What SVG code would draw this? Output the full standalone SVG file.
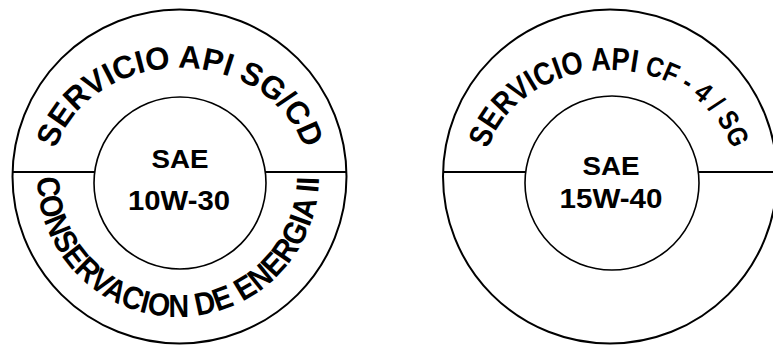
<svg xmlns="http://www.w3.org/2000/svg" width="773" height="345" viewBox="0 0 773 345">
<style>
.ring{fill:none;stroke:#000;stroke-width:2}
.inner{fill:#fff;stroke:#000;stroke-width:1.6}
.sep{stroke:#000;stroke-width:1.8}
.arc{font-family:"Liberation Sans",Arial,sans-serif;font-weight:bold;font-size:32px;fill:#000}
.ctr{font-family:"Liberation Sans",Arial,sans-serif;font-weight:bold;fill:#000;text-anchor:middle}
</style>
<defs>
<path id="pTopL" d="M 52,176 A 128,108 0 0 1 308,176"/>
<path id="pBotL" d="M 37,176 A 141,141 0 0 0 319,176"/>
<path id="pTopR" d="M 484,176 A 126,106 0 0 1 736,176"/>
</defs>
<g id="node-left">
<circle class="ring" cx="179.5" cy="176.5" r="167"/>
<line class="sep" x1="12.5" y1="172" x2="346.5" y2="172"/>
<circle class="inner" cx="180" cy="183" r="86"/>
<text class="arc"><textPath href="#pTopL" startOffset="50%" text-anchor="middle" textLength="316" lengthAdjust="spacingAndGlyphs">SERVICIO API SG/CD</textPath></text>
<text class="arc" font-size="31"><textPath href="#pBotL" startOffset="50%" text-anchor="middle" textLength="440" lengthAdjust="spacingAndGlyphs">CONSERVACION DE ENERGIA II</textPath></text>
<text class="ctr" x="180" y="168" font-size="26" textLength="57" lengthAdjust="spacingAndGlyphs">SAE</text>
<text class="ctr" x="179" y="210" font-size="28" textLength="102" lengthAdjust="spacingAndGlyphs">10W-30</text>
</g>
<g id="node-right">
<circle class="ring" cx="610" cy="176.5" r="167"/>
<line class="sep" x1="443" y1="172" x2="773" y2="172"/>
<circle class="inner" cx="612" cy="183" r="87"/>
<text class="arc" font-size="30"><textPath href="#pTopR" startOffset="50%" text-anchor="middle" textLength="310" lengthAdjust="spacingAndGlyphs">SERVICIO API <tspan font-size="28">CF - 4 / SG</tspan></textPath></text>
<text class="ctr" x="611" y="175" font-size="26" textLength="57" lengthAdjust="spacingAndGlyphs">SAE</text>
<text class="ctr" x="611" y="208" font-size="28" textLength="103" lengthAdjust="spacingAndGlyphs">15W-40</text>
</g>
<g id="connectors"></g>
</svg>
